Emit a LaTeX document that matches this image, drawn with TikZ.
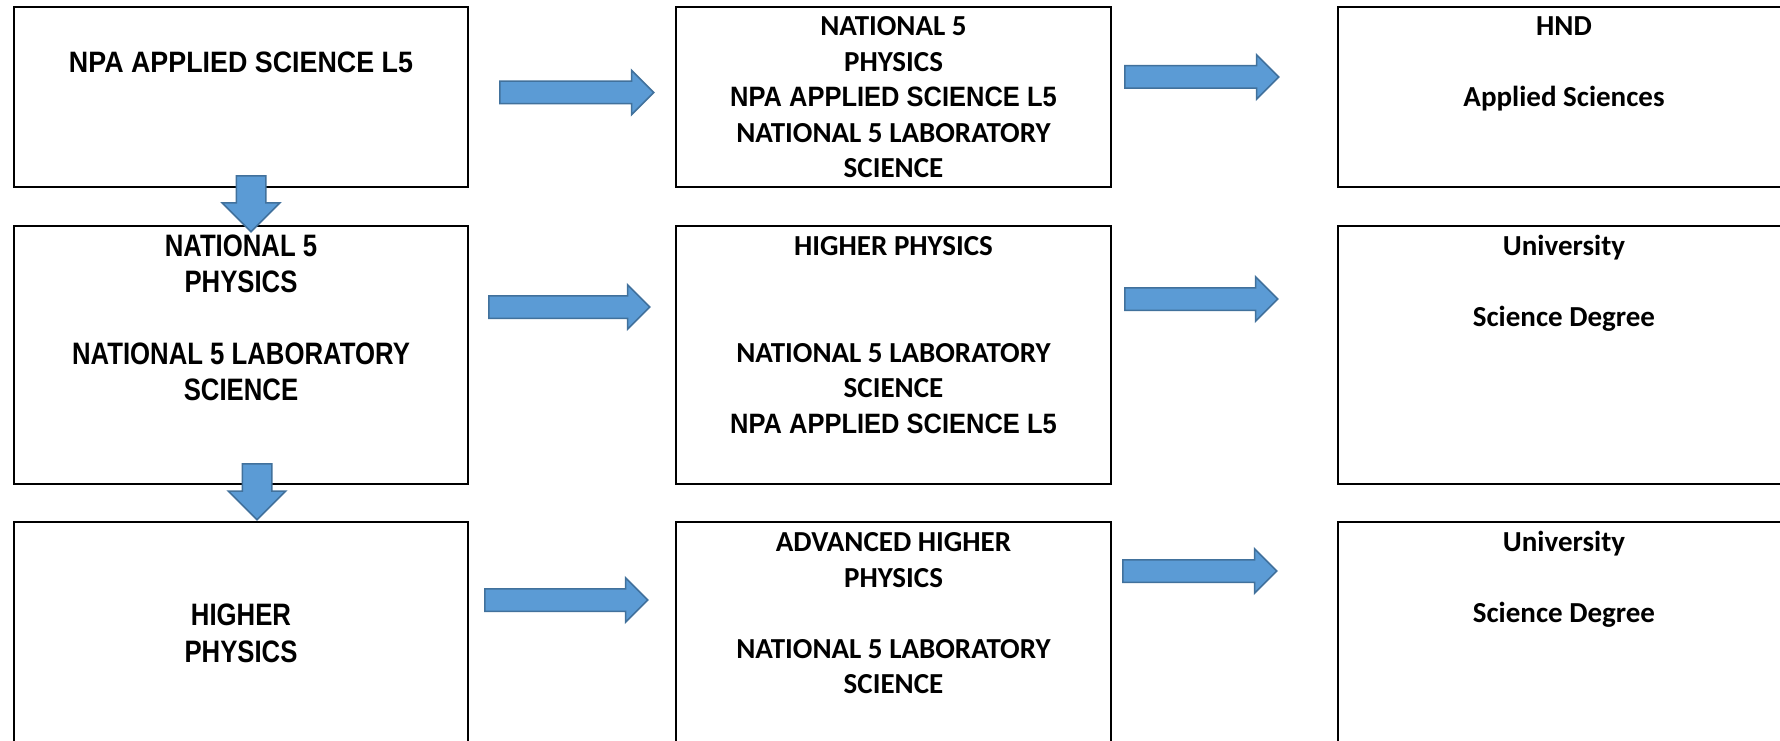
\documentclass[tikz,border=0pt]{standalone}
\usepackage{fontspec}
\setmainfont{Carlito}
\newfontfamily\arialmid[FakeStretch=0.91]{Liberation Sans}
\newfontfamily\arialnarrow[FakeStretch=0.83]{Liberation Sans}
\usetikzlibrary{shapes}
\usetikzlibrary{shapes.arrows}
\usetikzlibrary{positioning}
\definecolor{arrowfill}{HTML}{5B9BD5}
\definecolor{arrowline}{HTML}{41719C}
\newcommand{\calfont}{\fontsize{29}{35.5}\selectfont\bfseries}
\newcommand{\npaline}[1]{{\arialmid\fontsize{28}{35.5}\selectfont\bfseries #1}}
\tikzset{
	box_course/.style = {
		rectangle,
		draw=black,
		line width=2pt,
		inner sep=0pt
	},
	box_a/.style = {
		box_course,
		minimum width=454pt
	},
	box_b/.style = {
		box_course,
		minimum width=435pt
	},
	box_c/.style = {
		box_course,
		minimum width=452pt
	},
	txt_cal/.style = {
		align=center,
		inner sep=0pt,
		font=\calfont
	},
	txt_npa/.style = {
		align=center,
		inner sep=0pt,
		font=\arialmid\fontsize{29.5}{35.5}\selectfont\bfseries
	},
	txt_big/.style = {
		align=center,
		inner sep=0pt,
		font=\arialnarrow\fontsize{31}{36}\selectfont\bfseries
	},
	arrow_block/.style = {
		single arrow,
		draw=arrowline,
		fill=arrowfill,
		line width=1.5pt,
		anchor=tail
	},
	arrow_right/.style = {
		arrow_block,
		inner sep=10.5pt,
		single arrow head extend=11pt,
		minimum height=154pt
	},
	arrow_down/.style = {
		arrow_block,
		shape border rotate=270,
		inner sep=14pt,
		single arrow head extend=14pt,
		minimum height=56pt
	},
}

\begin{document}
\begin{tikzpicture}[x=1pt,y=-1pt]
\fill[white] (0,0) rectangle (1780,741);
\useasboundingbox (0,0) rectangle (1780,741);

\node [box_a, minimum height=180pt] (a1) at (241,97) {};
\node [box_a, minimum height=258pt] (a2) at (241,355) {};
\node [box_a, minimum height=258pt] (a3) at (241,651) {};
\node [box_b, minimum height=180pt] (b1) at (893.5,97) {};
\node [box_b, minimum height=258pt] (b2) at (893.5,355) {};
\node [box_b, minimum height=258pt] (b3) at (893.5,651) {};
\node [box_c, minimum height=180pt] (c1) at (1564,97) {};
\node [box_c, minimum height=258pt] (c2) at (1564,355) {};
\node [box_c, minimum height=258pt] (c3) at (1564,651) {};

\node [txt_npa, below=41.5pt of a1.north] (t_a1) {\strut NPA APPLIED SCIENCE L5};
\node [txt_big, below=6pt of a2.north] (t_a2) {\strut NATIONAL 5\\PHYSICS\\~\\NATIONAL 5 LABORATORY\\SCIENCE};
\node [txt_big, below=79pt of a3.north] (t_a3) {\strut HIGHER\\[1pt]PHYSICS};
\node [txt_cal, below=4.5pt of b1.north] (t_b1) {\strut NATIONAL 5\\PHYSICS\\\npaline{NPA APPLIED SCIENCE L5}\\NATIONAL 5 LABORATORY\\SCIENCE};
\node [txt_cal, below=5.5pt of b2.north] (t_b2) {\strut HIGHER PHYSICS\\~\\~\\NATIONAL 5 LABORATORY\\SCIENCE\\\npaline{NPA APPLIED SCIENCE L5}};
\node [txt_cal, below=5.5pt of b3.north] (t_b3) {\strut ADVANCED HIGHER\\PHYSICS\\~\\NATIONAL 5 LABORATORY\\SCIENCE};
\node [txt_cal, below=4.5pt of c1.north] (t_c1) {\strut HND\\~\\Applied Sciences};
\node [txt_cal, below=5.5pt of c2.north] (t_c2) {\strut University\\~\\Science Degree};
\node [txt_cal, below=5.5pt of c3.north] (t_c3) {\strut University\\~\\Science Degree};

\node [arrow_right] (ar_a1) at (499,92.5) {};
\node [arrow_right] (ar_b1) at (1124,77) {};
\node [arrow_right, minimum height=161pt] (ar_a2) at (488,307) {};
\node [arrow_right, minimum height=153pt] (ar_b2) at (1124,299) {};
\node [arrow_right, minimum height=163pt] (ar_a3) at (484,600) {};
\node [arrow_right] (ar_b3) at (1122,571) {};
\node [arrow_down] (ad_a1) at (251,175) {};
\node [arrow_down] (ad_a2) at (257,463) {};
\end{tikzpicture}
\end{document}
